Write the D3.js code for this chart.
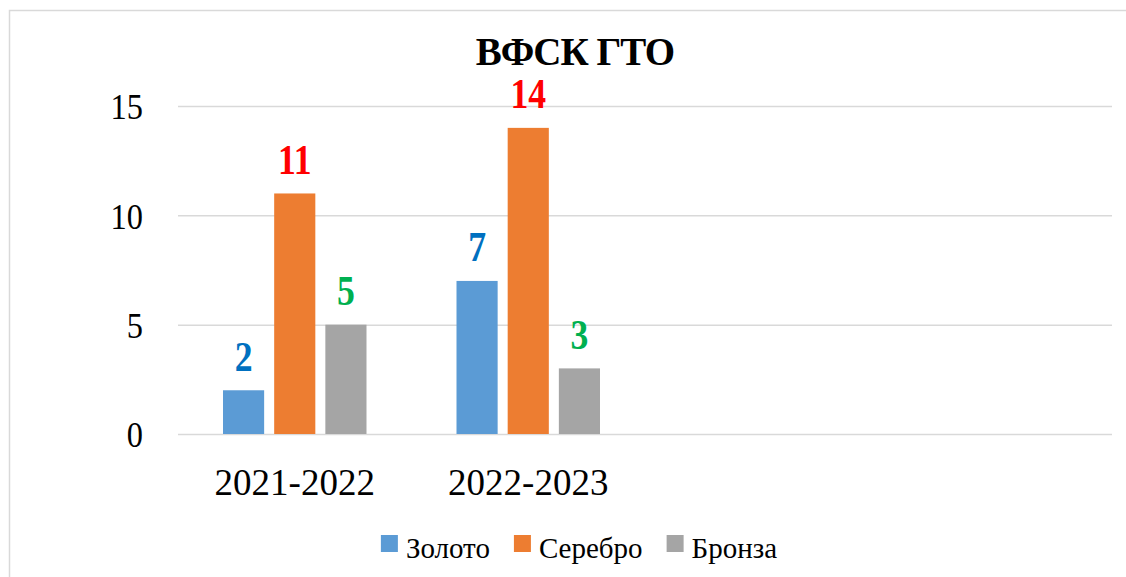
<!DOCTYPE html>
<html>
<head>
<meta charset="utf-8">
<script src="https://cdn.jsdelivr.net/npm/d3@7"></script>
<style>
  body { margin: 0; background: #fff; }
</style>
</head>
<body>
<div id="chart"></div>
<script>
// Data
const categories = ["2021-2022", "2022-2023", "", ""];
const seriesNames = ["Золото", "Серебро", "Бронза"];
const gold = [2, 7];
const silver = [11, 14];
const bronze = [5, 3];
const yTicks = [0, 5, 10, 15];
const title = "ВФСК ГТО";

const barColors = ["#5B9BD5", "#ED7D31", "#A5A5A5"];
const labelColors = ["#0070C0", "#FF0000", "#00B050"];
const FONT = "Liberation Serif";

function drawChart() {
    const width = 1126, height = 577;
    const margin = { top: 106, right: 14, bottom: 143, left: 178 };
    const chartWidth = width - margin.left - margin.right;
    const chartHeight = height - margin.top - margin.bottom;

    const svg = d3.select("#chart").append("svg")
        .attr("width", width)
        .attr("height", height)
        .attr("font-family", FONT)
        .style("display", "block");

    // outer chart border
    svg.append("rect")
        .attr("x", 9.5).attr("y", 10.5)
        .attr("width", 1140).attr("height", 600)
        .attr("fill", "none")
        .attr("stroke", "#D9D9D9")
        .attr("stroke-width", 1.5);

    const g = svg.append("g")
        .attr("transform", `translate(${margin.left},${margin.top})`);

    // Scales
    const x0 = d3.scaleBand()
        .domain(d3.range(categories.length))
        .range([0, chartWidth])
        .padding(0);

    const x1 = d3.scaleBand()
        .domain(seriesNames)
        .range([45, x0.bandwidth() - 45])
        .paddingInner(0.196);

    const y = d3.scaleLinear()
        .domain([0, 15])
        .range([chartHeight, 0]);

    // Gridlines
    const grid = g.append("g")
        .call(d3.axisLeft(y).tickValues(yTicks).tickSize(-chartWidth).tickFormat(""));
    grid.select(".domain").remove();
    grid.selectAll("line").attr("stroke", "#D9D9D9").attr("stroke-width", 1.5);

    // Y axis labels
    const yAxis = g.append("g")
        .call(d3.axisLeft(y).tickValues(yTicks).tickSize(0).tickPadding(39))
        .attr("font-family", FONT);
    yAxis.select(".domain").remove();
    yAxis.selectAll("text")
        .style("font-family", FONT)
        .style("font-size", "36px")
        .attr("fill", "#000")
        .attr("dy", "0.36em")
        .attr("transform", "scale(0.9,1)");

    // X axis labels
    const xAxis = g.append("g")
        .attr("transform", `translate(0,${chartHeight})`)
        .call(d3.axisBottom(x0).tickSize(0).tickPadding(35).tickFormat(i => categories[i]))
        .attr("font-family", FONT);
    xAxis.select(".domain").remove();
    xAxis.selectAll("text")
        .style("font-family", FONT)
        .style("font-size", "37px")
        .attr("fill", "#000");

    // Bars
    const seriesValues = [gold, silver, bronze];
    const rows = [];
    seriesValues.forEach((vals, s) => {
        vals.forEach((v, i) => rows.push({ cat: i, series: s, value: v }));
    });

    g.selectAll("rect.bar")
        .data(rows)
        .enter()
        .append("rect")
        .attr("class", "bar")
        .attr("x", d => x0(d.cat) + x1(seriesNames[d.series]))
        .attr("y", d => y(d.value))
        .attr("width", x1.bandwidth())
        .attr("height", d => y(0) - y(d.value))
        .attr("fill", d => barColors[d.series]);

    // Value labels
    g.selectAll("text.val")
        .data(rows)
        .enter()
        .append("text")
        .attr("class", "val")
        .attr("text-anchor", "middle")
        .style("font-family", FONT)
        .style("font-weight", "bold")
        .style("font-size", "42px")
        .attr("fill", d => labelColors[d.series])
        .attr("transform", d => {
            const cx = x0(d.cat) + x1(seriesNames[d.series]) + x1.bandwidth() / 2;
            return `translate(${cx},${y(d.value) - 19.5}) scale(0.85,1)`;
        })
        .text(d => d.value);

    // Title
    svg.append("text")
        .attr("x", 575)
        .attr("y", 65)
        .attr("text-anchor", "middle")
        .style("font-family", FONT)
        .style("font-weight", "bold")
        .style("font-size", "39px")
        .style("letter-spacing", "-1px")
        .text(title);

    // Legend
    const legend = svg.append("g");
    let cursor = 0;
    seriesNames.forEach((name, i) => {
        const item = legend.append("g").attr("transform", `translate(${cursor},0)`);
        item.append("rect")
            .attr("x", 0).attr("y", -23)
            .attr("width", 17).attr("height", 17)
            .attr("fill", barColors[i]);
        const t = item.append("text")
            .attr("x", 25).attr("y", 0)
            .style("font-family", FONT)
            .style("font-size", "29px")
            .attr("fill", "#000")
            .text(name);
        cursor += 25 + t.node().getComputedTextLength() + 24;
    });
    const legendWidth = cursor - 24;
    legend.attr("transform", `translate(${579 - legendWidth / 2},558)`);
}

drawChart();
</script>
</body>
</html>
